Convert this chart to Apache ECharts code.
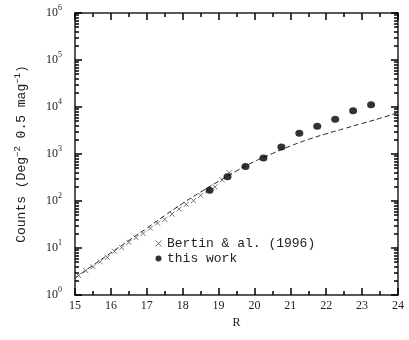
<!DOCTYPE html>
<html>
<head>
<meta charset="utf-8">
<script src="https://cdn.jsdelivr.net/npm/echarts@6/dist/echarts.min.js"></script>
<style>
  html, body { margin: 0; padding: 0; background: #fff; }
  #main { width: 409px; height: 340px; }
</style>
</head>
<body>
<div id="main"></div>
<script>
// Bertin & al. (1996) counts (crosses)
const bertinR = [15.1, 15.3, 15.5, 15.7, 15.9, 16.1, 16.3, 16.5, 16.7, 16.9, 17.1,
  17.3, 17.5, 17.7, 17.9, 18.1, 18.3, 18.5, 18.7, 18.9, 19.1, 19.3];
const bertinN = [2.6, 3.3, 4.0, 5.1, 6.3, 8.5, 10.2, 13.2, 16.6, 20.4, 26.3,
  33.9, 40.7, 52.5, 67.6, 85.1, 102, 132, 166, 200, 282, 398];

// this work (filled circles)
const workR = [18.75, 19.25, 19.75, 20.25, 20.75, 21.25, 21.75, 22.25, 22.75, 23.25];
const workN = [170, 330, 540, 820, 1410, 2760, 3890, 5460, 8300, 11200];

// model (dashed curve)
const modelR = [15, 15.5, 16, 16.5, 17, 17.5, 18, 18.5, 19, 19.5, 20, 20.5, 21,
  21.5, 22, 22.5, 23, 23.5, 24];
const modelN = [2.3, 4.3, 7.9, 14.5, 26.3, 49, 89, 155, 263, 437, 692, 1023, 1479,
  2042, 2692, 3467, 4467, 5754, 7586];

const xTicks = [15, 16, 17, 18, 19, 20, 21, 22, 23, 24];

const SERIF = 'Liberation Serif';
const MONO = 'Liberation Mono';
const INK = '#222';
const crossPath = 'path://M0,0L10,10M10,0L0,10';

const chart = echarts.init(document.getElementById('main'));

// fresh objects per axis; ticks a bit thicker than 1px, thin ones got lost
function line() { return { show: true, lineStyle: { color: INK, width: 1.5 } }; }
function major() { return { show: true, inside: true, length: 7, lineStyle: { color: '#000', width: 1.5 } }; }
function minor(n) { return { show: true, splitNumber: n, length: 4, lineStyle: { color: '#000', width: 1.5 } }; }

function xAxisCfg(pos, labels) {
  return {
    type: 'value', position: pos, min: 15, max: 24, interval: 1,
    axisLine: line(), axisTick: major(), minorTick: minor(2),
    splitLine: { show: false },
    axisLabel: {
      show: labels, margin: 5, color: INK, fontFamily: SERIF, fontSize: 12,
      formatter: (v) => (xTicks.includes(v) ? String(v) : '')
    },
    name: labels ? 'R' : '', nameLocation: 'middle', nameGap: 22,
    nameTextStyle: { fontFamily: SERIF, fontSize: 12, color: INK }
  };
}

function yAxisCfg(pos, labels) {
  return {
    type: 'log', logBase: 10, position: pos, min: 1, max: 1000000, splitNumber: 6,
    axisLine: line(), axisTick: major(), minorTick: minor(9),
    splitLine: { show: false },
    axisLabel: {
      show: labels, margin: 13, color: INK,
      formatter: (v) => '{b|10}{s|' + Math.round(Math.log10(v)) + '}',
      rich: {
        b: { fontFamily: SERIF, fontSize: 12, lineHeight: 18, color: INK },
        s: { fontFamily: SERIF, fontSize: 8, lineHeight: 6, verticalAlign: 'top', color: INK }
      }
    },
    name: labels ? '{b|Counts (Deg}{s|−2}{b| 0.5 mag}{s|−1}{b|)}' : '',
    nameLocation: 'middle', nameGap: 44, nameRotate: 90,
    nameTextStyle: {
      color: INK,
      rich: {
        b: { fontFamily: MONO, fontSize: 13, lineHeight: 18, color: INK },
        s: { fontFamily: MONO, fontSize: 9, lineHeight: 6, verticalAlign: 'top', color: INK }
      }
    }
  };
}

const option = {
  animation: false,
  backgroundColor: '#fff',
  grid: { left: 75, right: 11, top: 13, bottom: 45 },
  xAxis: [xAxisCfg('bottom', true), xAxisCfg('top', false)],
  yAxis: [yAxisCfg('left', true), yAxisCfg('right', false)],
  legend: {
    left: 148, top: 232, orient: 'vertical', itemGap: 2, itemWidth: 7, itemHeight: 6,
    textStyle: { fontFamily: MONO, fontSize: 13, color: INK },
    data: [
      { name: 'Bertin & al. (1996)', icon: crossPath,
        itemStyle: { color: 'none', borderColor: '#444', borderWidth: 1 } },
      { name: 'this work', icon: 'circle', itemStyle: { color: '#000' } }
    ]
  },
  series: [
    {
      name: 'model', type: 'line', smooth: true, symbol: 'none',
      data: modelR.map((r, i) => [r, modelN[i]]),
      lineStyle: { color: INK, width: 1, type: [5, 3] }, z: 1
    },
    {
      name: 'Bertin & al. (1996)', type: 'scatter', symbol: crossPath, symbolSize: 5,
      data: bertinR.map((r, i) => [r, bertinN[i]]),
      itemStyle: { color: 'none', borderColor: '#555', borderWidth: 1 }, z: 2
    },
    {
      name: 'this work', type: 'scatter', symbol: 'circle', symbolSize: [8, 7],
      data: workR.map((r, i) => [r, workN[i]]),
      itemStyle: { color: '#000' }, z: 3
    }
  ]
};

chart.setOption(option);
</script>
</body>
</html>
